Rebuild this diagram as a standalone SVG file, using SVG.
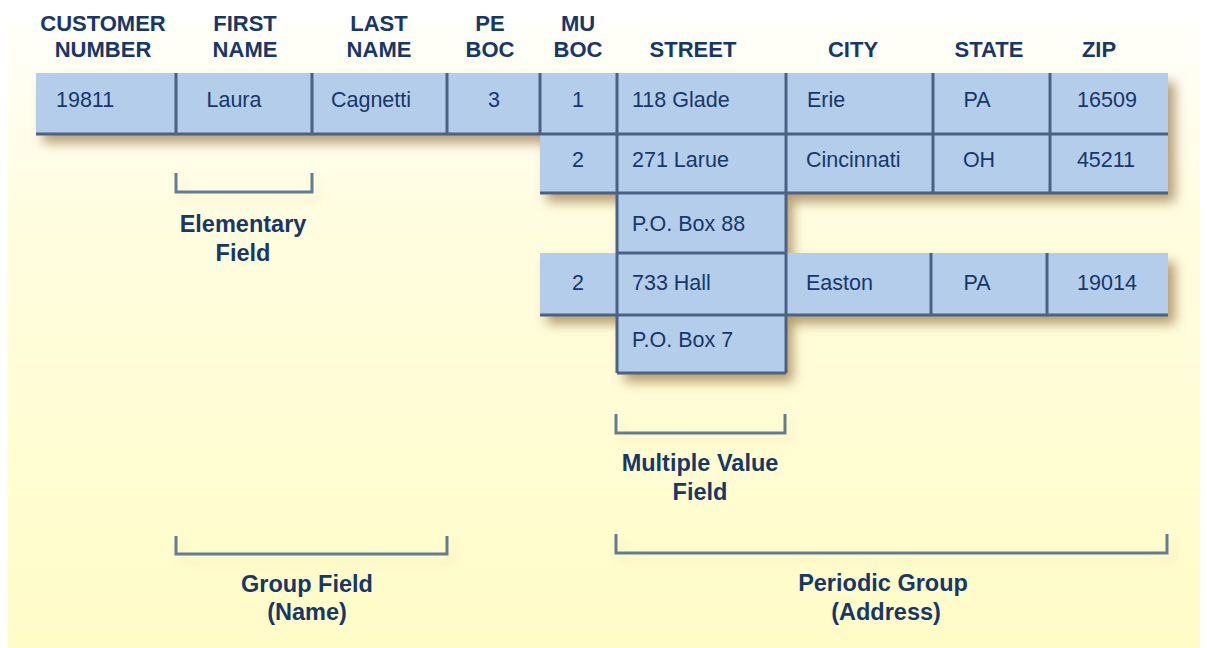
<svg xmlns="http://www.w3.org/2000/svg" width="1207" height="648" viewBox="0 0 1207 648">
<defs>
<linearGradient id="bg" x1="0" y1="0" x2="0" y2="1">
<stop offset="0" stop-color="#FFFFFA"/>
<stop offset="0.3" stop-color="#FFFDE0"/>
<stop offset="1" stop-color="#FFFCC8"/>
</linearGradient>
<filter id="shadow" x="-10%" y="-20%" width="130%" height="160%">
<feDropShadow dx="7" dy="9" stdDeviation="6" flood-color="#8F6A38" flood-opacity="0.65"/>
</filter>
<filter id="bshadow" x="-10%" y="-50%" width="130%" height="250%">
<feDropShadow dx="6" dy="8" stdDeviation="5" flood-color="#E8C890" flood-opacity="0.35"/>
</filter>
<style>
.cell{fill:#B4CDEB}
.ln{stroke:#4B6284;stroke-width:3;fill:none}
.hd{font-family:"Liberation Sans",Arial,sans-serif;font-weight:bold;font-size:22px;fill:#163768;text-anchor:middle}
.tx{font-family:"Liberation Sans",Arial,sans-serif;font-size:21.5px;fill:#163768}
.c{text-anchor:middle}
.lb{font-family:"Liberation Sans",Arial,sans-serif;font-weight:bold;font-size:23.5px;fill:#163768;text-anchor:middle}
.br{stroke:#5E7D93;stroke-width:3;fill:none}
</style>
</defs>
<rect x="0" y="0" width="1207" height="648" fill="#FFFFFF"/>
<rect x="8" y="24" width="1192" height="624" fill="url(#bg)"/>

<g id="headers">
<text class="hd" x="103" y="31">CUSTOMER</text>
<text class="hd" x="103" y="57">NUMBER</text>
<text class="hd" x="245" y="31">FIRST</text>
<text class="hd" x="245" y="57">NAME</text>
<text class="hd" x="379" y="31">LAST</text>
<text class="hd" x="379" y="57">NAME</text>
<text class="hd" x="490" y="31">PE</text>
<text class="hd" x="490" y="57">BOC</text>
<text class="hd" x="578" y="31">MU</text>
<text class="hd" x="578" y="57">BOC</text>
<text class="hd" x="693" y="57">STREET</text>
<text class="hd" x="853" y="57">CITY</text>
<text class="hd" x="989" y="57">STATE</text>
<text class="hd" x="1099" y="57">ZIP</text>
</g>

<g id="table-shadow" filter="url(#shadow)">
<rect class="cell" x="36" y="73" width="1132" height="61"/>
<rect class="cell" x="540" y="134" width="628" height="59"/>
<rect class="cell" x="617" y="193" width="169" height="60"/>
<rect class="cell" x="540" y="253" width="628" height="62"/>
<rect class="cell" x="617" y="315" width="169" height="58"/>
</g>

<g id="row1">
<g id="r1-customer"><text class="tx" x="56" y="107">19811</text></g>
<g id="r1-first"><text class="tx c" x="234" y="107">Laura</text></g>
<g id="r1-last"><text class="tx c" x="371" y="107">Cagnetti</text></g>
<g id="r1-peboc"><text class="tx c" x="494" y="107">3</text></g>
<g id="r1-muboc"><text class="tx c" x="578" y="107">1</text></g>
<g id="r1-street"><text class="tx" x="632" y="107">118 Glade</text></g>
<g id="r1-city"><text class="tx" x="807" y="107">Erie</text></g>
<g id="r1-state"><text class="tx c" x="977" y="107">PA</text></g>
<g id="r1-zip"><text class="tx c" x="1107" y="107">16509</text></g>
</g>
<g id="row2">
<g id="r2-muboc"><text class="tx c" x="578" y="167">2</text></g>
<g id="r2-street"><text class="tx" x="632" y="167">271 Larue</text></g>
<g id="r2-city"><text class="tx" x="806" y="167">Cincinnati</text></g>
<g id="r2-state"><text class="tx c" x="979" y="167">OH</text></g>
<g id="r2-zip"><text class="tx c" x="1106" y="167">45211</text></g>
</g>
<g id="row3">
<g id="r3-street"><text class="tx" x="632" y="231">P.O. Box 88</text></g>
</g>
<g id="row4">
<g id="r4-muboc"><text class="tx c" x="578" y="290">2</text></g>
<g id="r4-street"><text class="tx" x="632" y="290">733 Hall</text></g>
<g id="r4-city"><text class="tx" x="806" y="290">Easton</text></g>
<g id="r4-state"><text class="tx c" x="977" y="290">PA</text></g>
<g id="r4-zip"><text class="tx c" x="1107" y="290">19014</text></g>
</g>
<g id="row5">
<g id="r5-street"><text class="tx" x="632" y="347">P.O. Box 7</text></g>
</g>

<g id="grid">
<path class="ln" d="M36 134H1168 M540 193H1168 M617 253H786 M540 315H1168 M617 373H786"/>
<path class="ln" d="M176 73V134 M312 73V134 M447 73V134 M540 73V134 M617 73V373 M786 73V373 M933 73V193 M1050 73V193 M931 253V315 M1047 253V315"/>
</g>

<g id="brackets" filter="url(#bshadow)">
<path class="br" d="M176 173V192H312V173"/>
<path class="br" d="M616 414V433H785V414"/>
<path class="br" d="M176 536V554H447V536"/>
<path class="br" d="M616 534V553H1167V534"/>
</g>

<g id="labels">
<text class="lb" x="243" y="232">Elementary</text>
<text class="lb" x="243" y="261">Field</text>
<text class="lb" x="700" y="471">Multiple Value</text>
<text class="lb" x="700" y="500">Field</text>
<text class="lb" x="307" y="592">Group Field</text>
<text class="lb" x="307" y="620">(Name)</text>
<text class="lb" x="883" y="591">Periodic Group</text>
<text class="lb" x="886" y="620">(Address)</text>
</g>
</svg>
